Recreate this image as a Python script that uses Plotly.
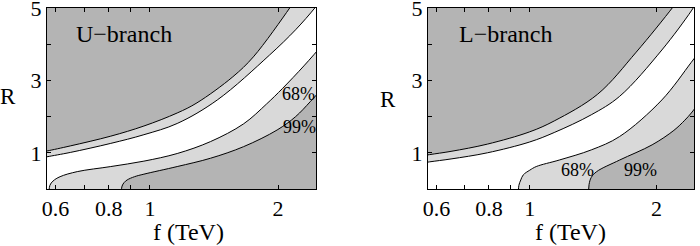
import plotly.graph_objects as go
import math

# ---------------- data ----------------
# U-branch boundaries: A = upper 99%, B = upper 68%, C = lower 68%, D = lower 99%
U_A_f = [0.52, 0.55, 0.573, 0.65, 0.809, 0.968, 1.159, 1.29, 1.566, 1.75, 2.13, 2.2, 2.28]
U_A_R = [0.97, 1.01, 1.05, 1.19, 1.46, 1.74, 2.10, 2.38, 3.10, 3.65, 5.00, 5.25, 5.55]
U_B_f = [0.52, 0.55, 0.573, 0.65, 0.809, 0.968, 1.159, 1.44, 1.91, 2.2, 2.44, 2.55, 2.65]
U_B_R = [0.80, 0.85, 0.89, 1.01, 1.26, 1.50, 1.81, 2.46, 3.70, 4.40, 5.00, 5.30, 5.60]
U_C_f = [0.579, 0.579, 0.582, 0.592, 0.615, 0.675, 0.809, 0.968, 1.159, 1.388, 1.66, 1.88, 2.05, 2.30, 2.55, 2.7]
U_C_R = [-0.6, -0.2, 0.10, 0.22, 0.34, 0.48, 0.62, 0.77, 0.98, 1.31, 1.80, 2.35, 2.78, 3.40, 4.00, 4.35]
U_D_f = [0.856, 0.856, 0.860, 0.870, 0.884, 0.92, 0.968, 1.159, 1.388, 1.66, 1.99, 2.2, 2.38, 2.55, 2.7]
U_D_R = [-0.6, -0.2, 0.08, 0.18, 0.25, 0.34, 0.41, 0.62, 0.85, 1.17, 1.63, 2.00, 2.41, 2.80, 3.15]

# L-branch boundaries
L_A_f = [0.52, 0.55, 0.578, 0.65, 0.793, 1.0, 1.143, 1.45, 1.79, 2.18, 2.25, 2.33]
L_A_R = [0.88, 0.91, 0.95, 1.04, 1.24, 1.58, 1.88, 2.62, 3.78, 5.00, 5.22, 5.47]
L_B_f = [0.52, 0.55, 0.578, 0.65, 0.793, 1.0, 1.143, 1.4, 1.635, 2.06, 2.42, 2.52, 2.62]
L_B_R = [0.68, 0.71, 0.75, 0.83, 1.00, 1.30, 1.56, 2.05, 2.56, 3.84, 4.92, 5.25, 5.55]
L_C_f = [0.939, 0.939, 0.942, 0.952, 0.965, 1.0, 1.036, 1.175, 1.4, 1.635, 2.06, 2.42, 2.55, 2.7]
L_C_R = [-0.6, -0.2, 0.10, 0.25, 0.39, 0.52, 0.62, 0.80, 1.08, 1.45, 2.46, 3.50, 3.85, 4.20]
L_D_f = [1.379, 1.379, 1.383, 1.40, 1.442, 1.635, 1.953, 2.2, 2.335, 2.42, 2.55, 2.7]
L_D_R = [-0.6, -0.2, 0.12, 0.32, 0.48, 0.80, 1.22, 1.62, 1.90, 2.10, 2.45, 2.85]

# axis ticks
X_TICKS = [0.6, 0.7, 0.8, 0.9, 1, 2]
X_TICKTEXT = ["0.6", "", "0.8", "", "1", "2"]
Y_TICKS = [0, 1, 2, 3, 4, 5]
Y_TICKTEXT = ["", "1", "", "3", "", "5"]

F_MIN, F_MAX = 0.573, 2.456
R_MIN, R_MAX = 0.0, 5.0
F_FAR_LO, F_FAR_HI = 0.3, 6.0
R_FAR_LO, R_FAR_HI = -3.0, 9.0

DARK = "#b4b4b4"
LIGHT = "#d9d9d9"
WHITE = "#ffffff"
FONT = "Liberation Serif"

W, H = 700, 246


def below_curve(fs, rs, starts_at_bottom):
    """Polygon of the region below / right of a boundary curve (closure is off-view)."""
    xs = list(fs)
    ys = list(rs)
    xs += [F_FAR_HI, F_FAR_HI]
    ys += [max(R_FAR_HI, ys[-1]), R_FAR_LO]
    if starts_at_bottom:
        xs += [fs[0]]
        ys += [R_FAR_LO]
    else:
        xs += [F_FAR_LO, F_FAR_LO]
        ys += [R_FAR_LO, rs[0]]
    return xs, ys


fig = go.Figure()

panels = [
    ("x", "y", [(U_A_f, U_A_R, False, LIGHT), (U_B_f, U_B_R, False, WHITE),
                (U_C_f, U_C_R, True, LIGHT), (U_D_f, U_D_R, True, DARK)]),
    ("x2", "y2", [(L_A_f, L_A_R, False, LIGHT), (L_B_f, L_B_R, False, WHITE),
                  (L_C_f, L_C_R, True, LIGHT), (L_D_f, L_D_R, True, DARK)]),
]
for xa, ya, curves in panels:
    for fs, rs, bottom, col in curves:
        px, py = below_curve(fs, rs, bottom)
        fig.add_trace(go.Scatter(
            x=px, y=py, xaxis=xa, yaxis=ya, mode="lines", fill="toself",
            fillcolor=col, line=dict(color="black", width=1, shape="spline", smoothing=1.0),
            hoverinfo="skip", showlegend=False))

# plot-area pixel boxes
LEFT_BOX = (47, 316)
RIGHT_BOX = (428, 694)
TOP_PX, BOT_PX = 8, 189

ydom = [1 - BOT_PX / H, 1 - TOP_PX / H]

axis_common = dict(showline=True, linecolor="black", linewidth=1, mirror="ticks",
                   ticks="inside", ticklen=4, tickcolor="black", tickwidth=1,
                   showgrid=False, zeroline=False, ticklabeloverflow="allow",
                   automargin=False,
                   tickfont=dict(family=FONT, size=22, color="black"))

for name, box in (("xaxis", LEFT_BOX), ("xaxis2", RIGHT_BOX)):
    fig.layout[name] = dict(type="log", range=[math.log10(F_MIN), math.log10(F_MAX)],
                            domain=[box[0] / W, box[1] / W],
                            tickvals=X_TICKS, ticktext=X_TICKTEXT, **axis_common)
fig.layout["yaxis"] = dict(range=[R_MIN, R_MAX], domain=ydom, anchor="x",
                           tickvals=Y_TICKS, ticktext=Y_TICKTEXT, **axis_common)
fig.layout["yaxis2"] = dict(range=[R_MIN, R_MAX], domain=ydom, anchor="x2",
                            tickvals=Y_TICKS, ticktext=Y_TICKTEXT, **axis_common)
fig.layout["xaxis"]["anchor"] = "y"
fig.layout["xaxis2"]["anchor"] = "y2"


def ann(text, xpx, ypx, size):
    fig.add_annotation(text=text, x=xpx / W, y=1 - ypx / H, xref="paper", yref="paper",
                       showarrow=False, xanchor="center", yanchor="middle",
                       font=dict(family=FONT, size=size, color="black"))


ann("U\u2212branch", 124, 34, 24)
ann("L\u2212branch", 506, 34, 24)
ann("68%", 298, 94, 18)
ann("99%", 299, 127, 18)
ann("68%", 577, 170, 18)
ann("99%", 640, 170, 18)
ann("f (TeV)", 188, 232, 24)
ann("f (TeV)", 570, 232, 24)
ann("R", 8, 96, 23)
ann("R", 388, 99, 23)

fig.update_layout(width=W, height=H, margin=dict(l=0, r=0, t=0, b=0, autoexpand=False),
                  paper_bgcolor="white", plot_bgcolor=DARK, showlegend=False)

fig.write_html("out.html", config={"displayModeBar": False, "staticPlot": True},
               post_script="document.body.style.margin='0';document.body.style.overflow='hidden';")
